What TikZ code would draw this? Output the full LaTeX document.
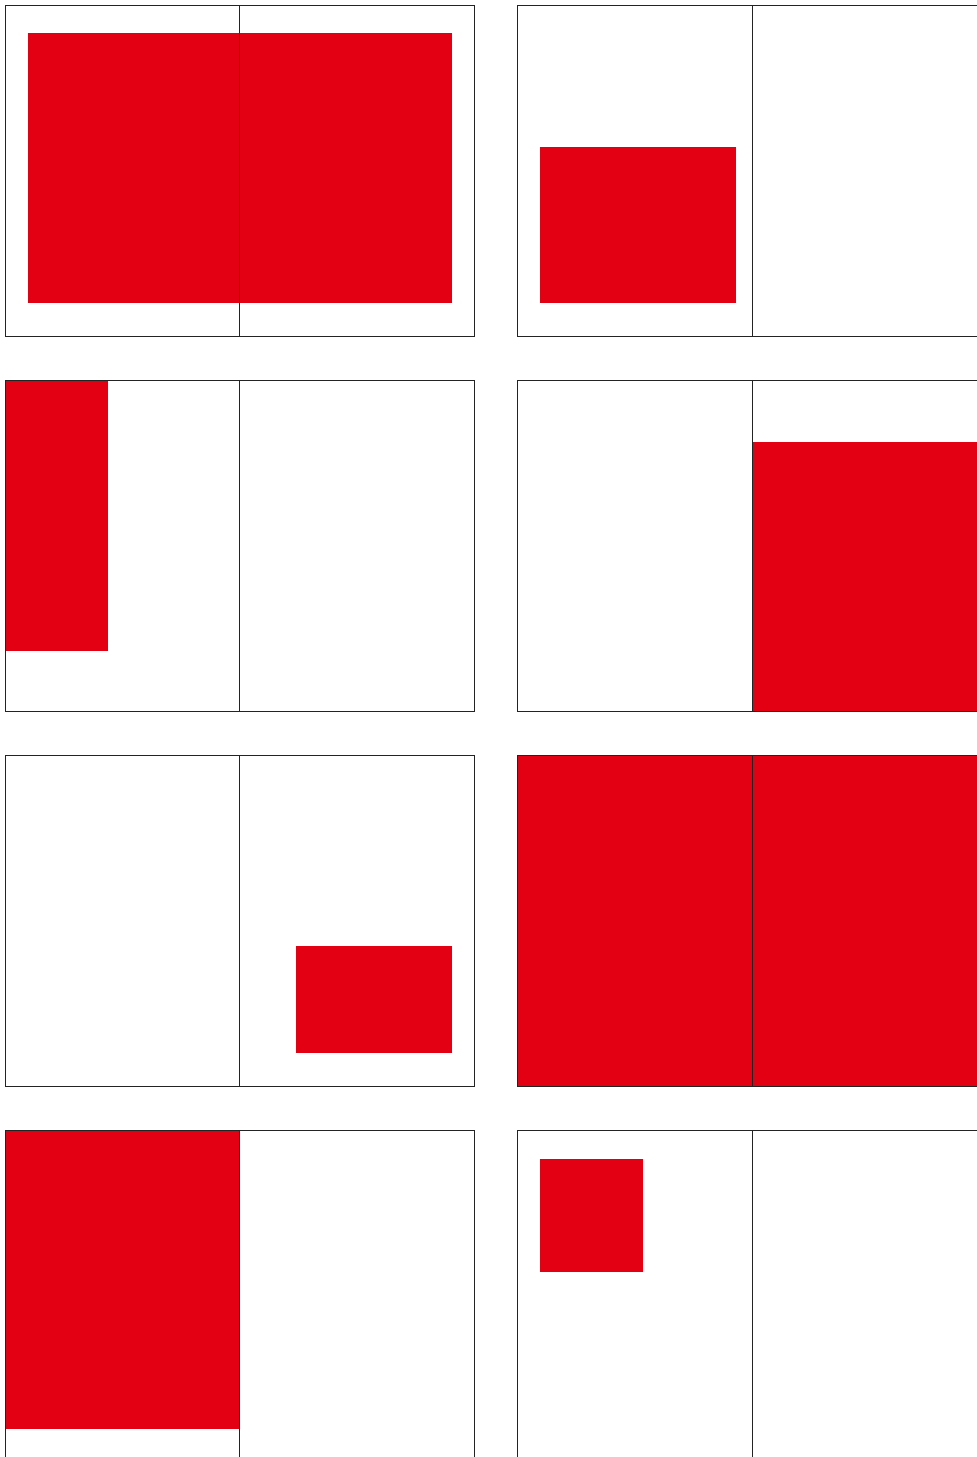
\documentclass[tikz,border=0pt]{standalone}
\definecolor{rd}{RGB}{227,0,18}
\definecolor{ln}{RGB}{35,35,35}

\begin{document}
\begin{tikzpicture}[x=1pt, y=-1pt]

\tikzset{pg/.style={draw=ln, line width=0.9pt}, spot/.style={fill=rd}}

% ── two-page spread: \spr{x}{y}{spine offset} ──
\newcommand{\spr}[3]{%
    \draw[pg] (#1,#2) rectangle ++(469,331.5);
    \draw[pg] ({#1+#3},#2) -- ++(0,331.5);
}

\useasboundingbox (0,0) rectangle (977,1457);
\clip (0,0) rectangle (977,1457);

% ════════════════════════════════════════════════
%  RED AREAS (one per spread)
% ════════════════════════════════════════════════
\fill[spot] (28,33) rectangle (452,302.5);    % row 1, left
\fill[spot] (540,147) rectangle (736,302.5);  % row 1, right
\fill[spot] (5,380) rectangle (108,650.5);    % row 2, left
\fill[spot] (752.5,442) rectangle (986,711.5);% row 2, right
\fill[spot] (296,946) rectangle (452,1052.5); % row 3, left
\fill[spot] (517,755) rectangle (986,1086.5); % row 3, right
\fill[spot] (5,1130) rectangle (239.5,1428.5);% row 4, left
\fill[spot] (540,1159) rectangle (643,1271.5);% row 4, right

% ════════════════════════════════════════════════
%  SPREADS (page frames + spine)
% ════════════════════════════════════════════════
\foreach \y in {5,380,755,1130}{
    \spr{5}{\y}{234.5}
    \spr{517}{\y}{235.5}
}

\end{tikzpicture}
\end{document}
